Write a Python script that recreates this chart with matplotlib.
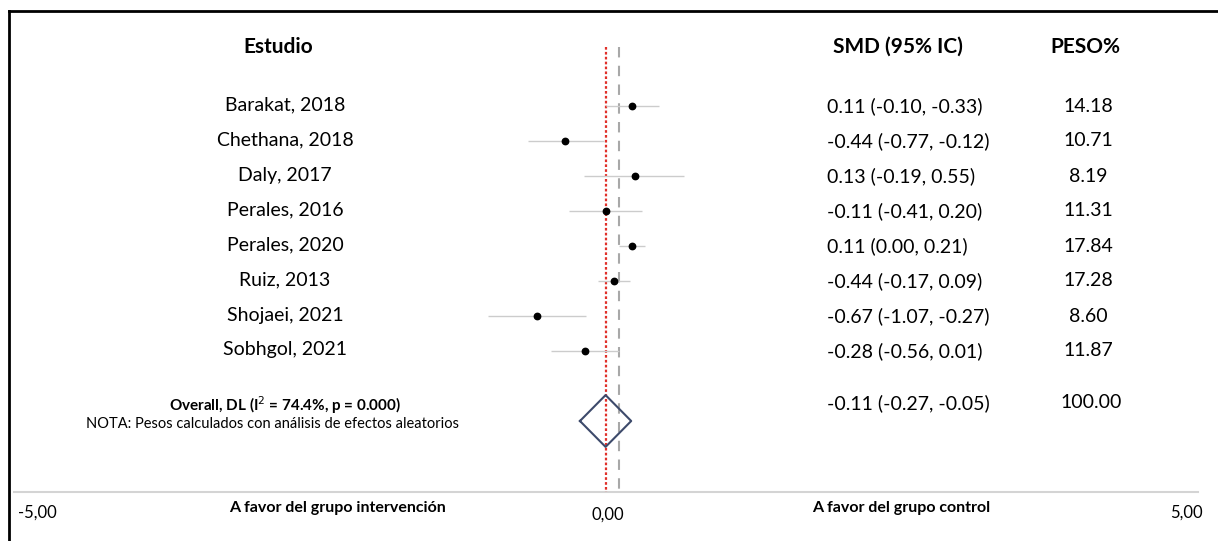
import matplotlib.pyplot as plt
from matplotlib.lines import Line2D
import matplotlib.transforms as mtransforms

plt.rcParams['font.family'] = ['Lato', 'DejaVu Sans']

# study-level results
studies = ["Barakat, 2018", "Chethana, 2018", "Daly, 2017", "Perales, 2016",
           "Perales, 2020", "Ruiz, 2013", "Shojaei, 2021", "Sobhgol, 2021"]
smd = [0.11, -0.44, 0.13, -0.11, 0.11, -0.04, -0.67, -0.28]
ci_lo = [-0.11, -0.75, -0.29, -0.41, 0.00, -0.17, -1.07, -0.56]
ci_hi = [0.33, -0.12, 0.53, 0.19, 0.21, 0.09, -0.27, 0.00]
smd_labels = ["0.11 (-0.10, -0.33)", "-0.44 (-0.77, -0.12)", "0.13 (-0.19, 0.55)",
              "-0.11 (-0.41, 0.20)", "0.11 (0.00, 0.21)", "-0.44 (-0.17, 0.09)",
              "-0.67 (-1.07, -0.27)", "-0.28 (-0.56, 0.01)"]
weights = ["14.18", "10.71", "8.19", "11.31", "17.84", "17.28", "8.60", "11.87"]

# pooled estimate
overall_smd = -0.11
overall_lo = -0.32
overall_hi = 0.10
overall_label = "-0.11 (-0.27, -0.05)"
overall_weight = "100.00"
overall_title = "Overall, DL (I$^2$ = 74.4%, p = 0.000)"
note = "NOTA: Pesos calculados con análisis de efectos aleatorios"

W, H = 1218, 541
fig = plt.figure(figsize=(W / 100, H / 100), dpi=100)

# one axes over the whole figure: x in SMD units, y in row units
ax = fig.add_axes([0, 0, 1, 1])
x0_px, px_per_unit = 619, 122
row0_px, row_h = 106, 35
ax.set_xlim(-x0_px / px_per_unit, (W - x0_px) / px_per_unit)
ax.set_ylim((H - row0_px) / row_h, -row0_px / row_h)
ax.axis("off")

def ry(px):
    return (px - row0_px) / row_h

# x given in pixel fraction, y in rows
tr = mtransforms.blended_transform_factory(ax.transAxes, ax.transData)

def put(xpx, ypx, s, **kw):
    ax.text(xpx / W, ry(ypx), s, transform=tr, va="center", color="black", **kw)

rows = list(range(len(studies)))
overall_row = len(studies) + 1

# reference lines
ax.plot([0, 0], [ry(47), ry(495)], color="#a8a8a8", lw=1.5, ls=(0, (5, 4)), zorder=1)
ax.plot([overall_smd, overall_smd], [ry(47), ry(492)], color="#e0302a", lw=1.6,
        ls=(0, (1.2, 1.0)), zorder=2)

# confidence intervals and point estimates
ax.hlines(rows, ci_lo, ci_hi, color="#cccccc", lw=1.0, zorder=3)
ax.plot(smd, rows, "o", color="black", ms=4.6, zorder=4)

# pooled diamond
dh = 0.74
ax.plot([overall_lo, overall_smd, overall_hi, overall_smd, overall_lo],
        [overall_row, overall_row - dh, overall_row, overall_row + dh, overall_row],
        color="#3d4a6b", lw=1.5, zorder=5)

# bottom axis line
ax.plot([(14 - x0_px) / px_per_unit, (1198 - x0_px) / px_per_unit], [ry(492), ry(492)],
        color="#d4d4d4", lw=1.5, zorder=1)

# headers
put(278, 47, "Estudio", ha="center", fontsize=15, fontweight="bold")
put(833, 47, "SMD (95% IC)", ha="left", fontsize=15, fontweight="bold")
put(1050, 47, "PESO%", ha="left", fontsize=15, fontweight="bold")

# table columns
for i in rows:
    ypx = row0_px + i * row_h
    put(285, ypx - 1, studies[i], ha="center", fontsize=14)
    put(827, ypx, smd_labels[i], ha="left", fontsize=14)
    put(1088, ypx, weights[i], ha="center", fontsize=14)

put(285, 405, overall_title, ha="center", fontsize=11, fontweight="bold")
put(272, 424, note, ha="center", fontsize=10.5)
put(827, 403, overall_label, ha="left", fontsize=14)
put(1091, 403, overall_weight, ha="center", fontsize=14)

# axis annotations
put(18, 513, "-5,00", ha="left", fontsize=12)
put(608, 515, "0,00", ha="center", fontsize=12)
put(1203, 513, "5,00", ha="right", fontsize=12)
put(337, 508, "A favor del grupo intervención", ha="center", fontsize=11.5, fontweight="bold")
put(901, 508, "A favor del grupo control", ha="center", fontsize=11.5, fontweight="bold")

# frame edges
fig.add_artist(Line2D([9 / W, 9 / W], [0, 1 - 11 / H], color="black", lw=2))
fig.add_artist(Line2D([9 / W, 1], [1 - 11 / H, 1 - 11 / H], color="black", lw=2))

fig.savefig("out.png", dpi=100, facecolor="white")
